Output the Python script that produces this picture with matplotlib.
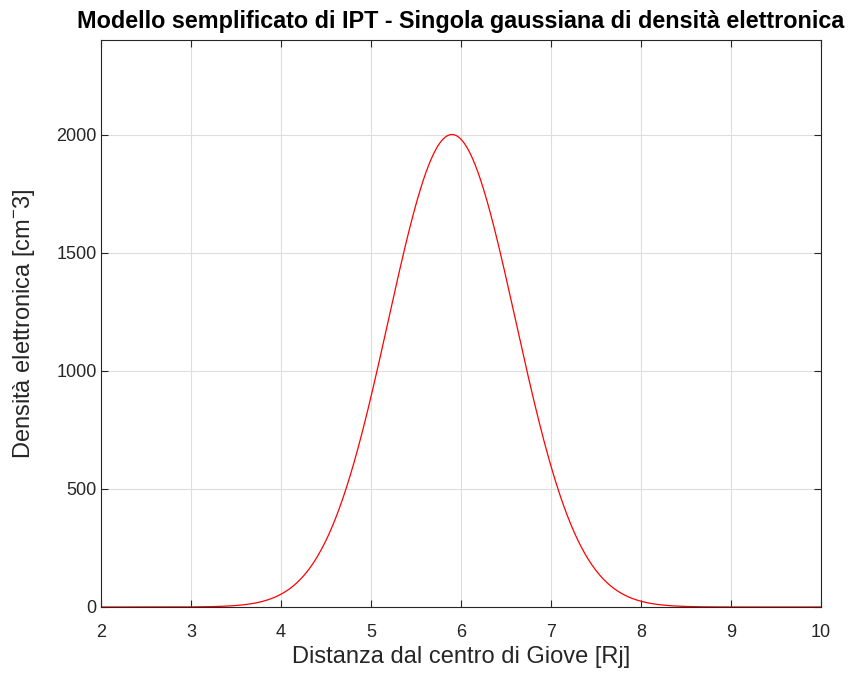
import matplotlib
matplotlib.use('Agg')
import matplotlib.pyplot as plt
import numpy as np

plt.rcParams['font.family'] = ['Liberation Sans', 'DejaVu Sans']
plt.rcParams['mathtext.fontset'] = 'custom'
plt.rcParams['mathtext.rm'] = 'Liberation Sans'
plt.rcParams['mathtext.it'] = 'Liberation Sans:italic'

# IPT model: single gaussian electron density profile
n0 = 2000.0      # peak density [cm^-3]
r0 = 5.9         # peak distance [Rj]
H = 1.0          # scale width [Rj]
r_min, r_max = 2.0, 10.0

x_ticks = [2, 3, 4, 5, 6, 7, 8, 9, 10]
y_ticks = [0, 500, 1000, 1500, 2000]

r = np.linspace(r_min, r_max, 801)
n = n0 * np.exp(-((r - r0) / H) ** 2)

axis_col = '#262626'

fig = plt.figure(figsize=(8.55, 6.77), dpi=100)
ax = fig.add_axes([0.1181, 0.1034, 0.8421, 0.8375])

ax.plot(r, n, color='red', linewidth=0.9)

ax.set_xlim(r_min, r_max)
ax.set_ylim(0, 2400)
ax.set_xticks(x_ticks)
ax.set_yticks(y_ticks)
ax.grid(True, color='#dedede', linewidth=0.8)
ax.set_axisbelow(True)

ax.tick_params(direction='in', length=5, width=0.8, colors=axis_col,
               labelsize=13, top=True, right=True)
ax.tick_params(axis='x', pad=12)
ax.tick_params(axis='y', pad=3)
for sp in ax.spines.values():
    sp.set_color(axis_col)
    sp.set_linewidth(0.8)

ax.set_xlabel('Distanza dal centro di Giove [Rj]', fontsize=17, color=axis_col, labelpad=4)
ax.set_ylabel('Densità elettronica [cm$^{-}$3]', fontsize=17, color=axis_col, labelpad=14)
ax.set_title('Modello semplificato di IPT - Singola gaussiana di densità elettronica',
             fontsize=16.8, fontweight='bold', color='black', pad=9)

plt.savefig('out.png', dpi=100)
plt.close()
